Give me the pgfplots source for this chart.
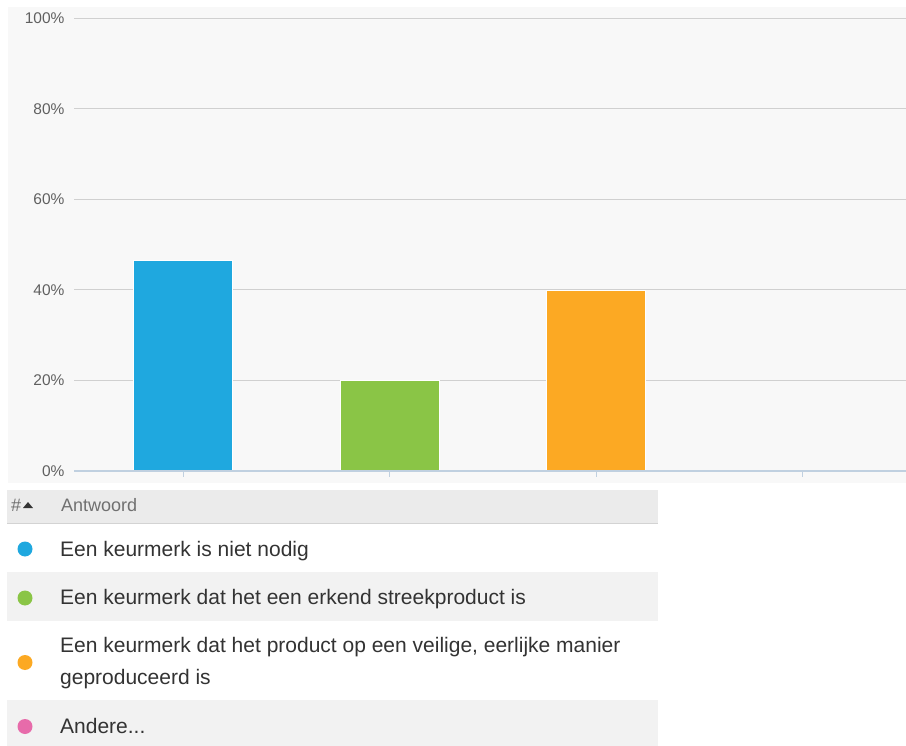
\documentclass[border=0pt]{standalone}
\usepackage{pgfplots}
\pgfplotsset{compat=1.18}
\usepackage{fontspec}
\setmainfont{Liberation Sans}
\definecolor{bgc}{HTML}{F8F8F8}
\definecolor{gridc}{HTML}{D0D0D0}
\definecolor{axisc}{HTML}{C0D0E0}
\definecolor{tickc}{HTML}{606060}
\definecolor{c1}{HTML}{1FA8DF}
\definecolor{c2}{HTML}{8AC546}
\definecolor{c3}{HTML}{FCA923}
\definecolor{c4}{HTML}{E76BAA}
\definecolor{hdr}{HTML}{EBEBEB}
\definecolor{rowg}{HTML}{F2F2F2}
\definecolor{txt}{HTML}{333333}
\definecolor{htxt}{HTML}{707070}
\begin{document}
\begin{tikzpicture}
\useasboundingbox (0pt,0pt) rectangle (906pt,-746pt);
\fill[white] (0pt,0pt) rectangle (906pt,-746pt);
\fill[bgc] (8pt,-7pt) rectangle (906pt,-483pt);
\begin{axis}[
  at={(74pt,-471pt)}, anchor=south west,
  scale only axis, width=832pt, height=452.5pt,
  xmin=-0.529, xmax=3.5, ymin=0, ymax=100,
  axis line style={draw=none},
  xtick={0,1,2,3}, xticklabels={},
  xtick pos=bottom, tick align=outside, major tick length=6pt,
  x tick style={axisc, line width=1.4pt},
  ytick={0,20,40,60,80,100}, y tick style={draw=none},
  ymajorgrids, grid style={gridc, line width=1pt},
  yticklabel={\pgfmathprintnumber{\tick}\%},
  /pgf/number format/assume math mode=true,
  yticklabel style={font=\fontsize{15.5}{17}\selectfont, text=tickc},
  ybar, bar width=99pt,
]
\addplot[bar shift=0pt, fill=c1, draw=white, line width=0.6pt] coordinates {(0,46.67)};
\addplot[bar shift=0pt, fill=c2, draw=white, line width=0.6pt] coordinates {(1,20)};
\addplot[bar shift=0pt, fill=c3, draw=white, line width=0.6pt] coordinates {(2,40)};
\addplot[bar shift=0pt, fill=c4, draw=none] coordinates {(3,0)};
\draw[axisc, line width=1.4pt] (rel axis cs:0,0) -- (rel axis cs:1,0);
\end{axis}
% table
\fill[hdr] (7pt,-490pt) rectangle (658pt,-523pt);
\fill[rowg] (7pt,-571.5pt) rectangle (658pt,-621pt);
\fill[rowg] (7pt,-700pt) rectangle (658pt,-746pt);
\draw[hdr!90!black, line width=0.6pt] (7pt,-523pt) -- (658pt,-523pt);
\node[anchor=base west, inner sep=0, text=htxt, font=\fontsize{18}{20}\selectfont] at (11pt,-511.5pt) {\#};
\fill[black!80] (23pt,-508pt) -- (33pt,-508pt) -- (28pt,-502pt) -- cycle;
\node[anchor=base west, inner sep=0, text=htxt, font=\fontsize{18}{20}\selectfont] at (61pt,-511.5pt) {Antwoord};
\fill[c1] (25pt,-549pt) circle (7.5pt);
\fill[c2] (25pt,-598pt) circle (7.5pt);
\fill[c3] (25pt,-662.5pt) circle (7.5pt);
\fill[c4] (25pt,-726.5pt) circle (7.5pt);
\begin{scope}[every node/.style={anchor=base west, inner sep=0, text=txt, font=\fontsize{21}{31}\selectfont}]
\node at (60pt,-556pt) {Een keurmerk is niet nodig};
\node at (60pt,-604pt) {Een keurmerk dat het een erkend streekproduct is};
\node at (60pt,-652.7pt) {Een keurmerk dat het product op een veilige, eerlijke manier};
\node at (60pt,-684pt) {geproduceerd is};
\node at (60pt,-733.3pt) {Andere...};
\end{scope}
\end{tikzpicture}
\end{document}
